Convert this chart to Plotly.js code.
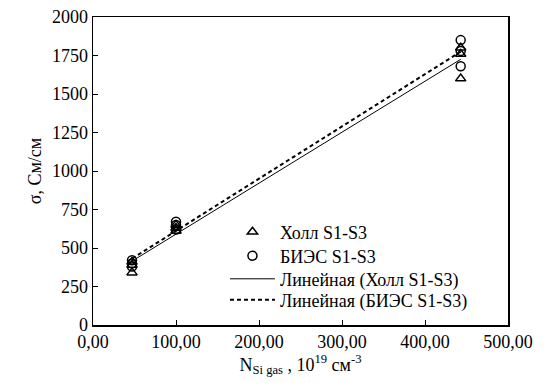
<!DOCTYPE html>
<html>
<head>
<meta charset="utf-8">
<script src="https://cdn.plot.ly/plotly-3.0.1.min.js"></script>
<style>html,body{margin:0;padding:0;background:#fff;}#chart{width:555px;height:390px;}</style>
</head>
<body>
<div id="chart"></div>
<script>
// Data
const hallX = [47, 47, 47, 100, 100, 100, 443, 443, 443];
const hallY = [340, 390, 410, 610, 630, 650, 1600, 1760, 1800];
const biesX = [47, 47, 47, 100, 100, 100, 443, 443, 443];
const biesY = [380, 400, 420, 620, 650, 670, 1680, 1780, 1850];
const xTickVals = [0, 100, 200, 300, 400, 500];
const xTickText = ["0,00", "100,00", "200,00", "300,00", "400,00", "500,00"];
const yTickVals = [0, 250, 500, 750, 1000, 1250, 1500, 1750, 2000];

function linFit(xs, ys) {
  const n = xs.length;
  const mx = xs.reduce((a, b) => a + b, 0) / n;
  const my = ys.reduce((a, b) => a + b, 0) / n;
  let sxy = 0, sxx = 0;
  for (let i = 0; i < n; i++) { sxy += (xs[i] - mx) * (ys[i] - my); sxx += (xs[i] - mx) ** 2; }
  const k = sxy / sxx, b = my - k * mx;
  const x0 = Math.min(...xs), x1 = Math.max(...xs);
  return { x: [x0, x1], y: [k * x0 + b, k * x1 + b] };
}
const hallFit = linFit(hallX, hallY);
const biesFit = linFit(biesX, biesY);

const font = "'Liberation Serif', Tinos, 'Times New Roman', Times, 'DejaVu Serif', serif";
const traces = [
  { x: hallX, y: hallY, type: "scatter", mode: "markers", name: "Холл S1-S3", legend: "legend",
    marker: { symbol: "triangle-up-open", size: 9, color: "#000", line: { width: 1.5, color: "#000" } } },
  { x: biesX, y: biesY, type: "scatter", mode: "markers", name: "БИЭС S1-S3", legend: "legend2",
    marker: { symbol: "circle-open", size: 9, color: "#000", line: { width: 1.5, color: "#000" } } },
  { x: hallFit.x, y: hallFit.y, type: "scatter", mode: "lines", name: "Линейная (Холл S1-S3)", legend: "legend3",
    line: { color: "#000", width: 1 } },
  { x: biesFit.x, y: biesFit.y, type: "scatter", mode: "lines", name: "Линейная (БИЭС S1-S3)", legend: "legend4",
    line: { color: "#000", width: 2, dash: "4px,3px" } }
];

function leg(y) {
  return { x: 0.318, y: y, xanchor: "left", yanchor: "middle", bgcolor: "rgba(0,0,0,0)",
    font: { family: font, size: 18, color: "#000" }, itemwidth: 45 };
}

const layout = {
  width: 555, height: 390,
  margin: { l: 93, r: 47, t: 17, b: 65 },
  paper_bgcolor: "#fff", plot_bgcolor: "#fff",
  font: { family: font, color: "#000", size: 18 },
  showlegend: true,
  legend: leg(0.302), legend2: leg(0.224), legend3: leg(0.149), legend4: leg(0.081),
  xaxis: {
    range: [0, 500], tickvals: xTickVals, ticktext: xTickText,
    ticks: "inside", ticklen: 5, tickcolor: "#000",
    showline: true, linecolor: "#000", linewidth: 1.5, mirror: true,
    showgrid: false, zeroline: false,
    tickfont: { family: font, size: 18, color: "#000" },
    title: { text: "N<sub>Si gas</sub> , 10<sup>19</sup> см<sup>-3</sup>", font: { family: font, size: 18, color: "#000" }, standoff: 6 }
  },
  yaxis: {
    range: [0, 2000], tickvals: yTickVals,
    ticks: "inside", ticklen: 5, tickcolor: "#000",
    showline: true, linecolor: "#000", linewidth: 1.5, mirror: true,
    showgrid: false, zeroline: false,
    tickfont: { family: font, size: 18, color: "#000" },
    title: { text: "\u00a0\u00a0\u00a0\u00a0\u00a0\u00a0\u00a0σ, См/см", font: { family: font, size: 18, color: "#000" }, standoff: 5 }
  }
};

Plotly.newPlot("chart", traces, layout, { displayModeBar: false, staticPlot: true });
</script>
</body>
</html>
